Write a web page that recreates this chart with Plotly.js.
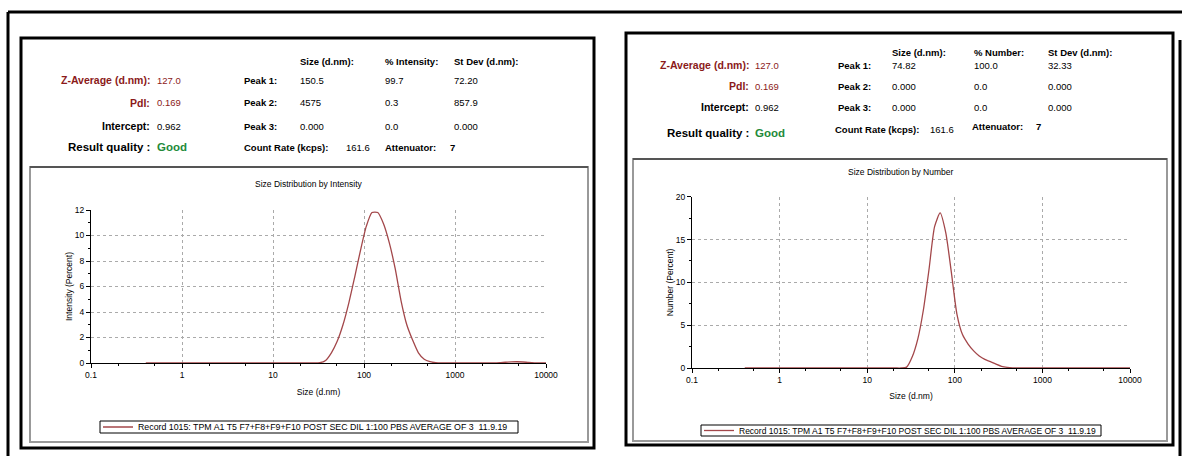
<!DOCTYPE html>
<html><head><meta charset="utf-8">
<script src="https://cdn.plot.ly/plotly-3.0.1.min.js"></script>
<style>html,body{margin:0;padding:0;background:#fff;}#chart{width:1182px;height:456px;}</style>
</head><body><div id="chart"></div>
<script>
// ---------------- DATA ----------------
const sizes = [0.4, 0.4632, 0.5365, 0.6213, 0.7195, 0.8332, 0.9649, 1.117, 1.294, 1.499,
  1.736, 2.010, 2.328, 2.696, 3.122, 3.615, 4.187, 4.849, 5.615, 6.503,
  7.531, 8.721, 10.10, 11.70, 13.54, 15.69, 18.17, 21.04, 24.36, 28.21,
  32.67, 37.84, 43.82, 50.75, 58.77, 68.06, 78.82, 91.28, 105.7, 122.4,
  141.8, 164.2, 190.1, 220.2, 255.0, 295.3, 342.0, 396.1, 458.7, 531.2,
  615.1, 712.4, 825.0, 955.4, 1106, 1281, 1484, 1718, 1990, 2305,
  2669, 3091, 3580, 4145, 4801, 5560, 6439, 7456, 8635, 10000];
const intensityPct = [0,0,0,0,0,0,0,0,0,0,
  0,0,0,0,0,0,0,0,0,0,
  0,0,0,0,0,0,0,0,0,0,
  0.02,0.2,0.8,1.7,3.0,4.7,6.7,8.8,10.7,11.8,
  11.8,10.9,9.4,7.4,4.9,3.0,1.8,0.8,0.3,0.1,
  0.02,0,0,0,0,0,0,0,0,0,
  0,0.02,0.06,0.09,0.1,0.08,0.04,0.01,0,0];
const numberPct = [0,0,0,0,0,0,0,0,0,0,
  0,0,0,0,0,0,0,0,0,0,
  0,0,0,0,0,0,0,0,0,0.1,
  1.3,3.4,6.8,11.5,16.5,18.1,15.8,11.2,6.3,3.9,
  2.8,2.0,1.4,1.0,0.75,0.45,0.2,0.08,0.02,0,
  0,0,0,0,0,0,0,0,0,0,
  0,0,0,0,0,0,0,0,0,0];
const xTickVals = [0.1, 1, 10, 100, 1000, 10000];
const xTickText = ['0.1', '1', '10', '100', '1000', '10000'];
const recordName = 'Record 1015: TPM A1 T5 F7+F8+F9+F10 POST SEC DIL 1:100 PBS AVERAGE OF 3  11.9.19';

const summaryLabels = ['Z-Average (d.nm):', 'PdI:', 'Intercept:'];
const summaryValues = ['127.0', '0.169', '0.962'];
const peakLabels = ['Peak 1:', 'Peak 2:', 'Peak 3:'];
const headersIntensity = ['Size (d.nm):', '% Intensity:', 'St Dev (d.nm):'];
const headersNumber = ['Size (d.nm):', '% Number:', 'St Dev (d.nm):'];
const peakSizeI = ['150.5', '4575', '0.000'];
const peakPctI = ['99.7', '0.3', '0.0'];
const peakSdI = ['72.20', '857.9', '0.000'];
const peakSizeN = ['74.82', '0.000', '0.000'];
const peakPctN = ['100.0', '0.0', '0.0'];
const peakSdN = ['32.33', '0.000', '0.000'];
const countRate = '161.6';
const attenuator = '7';
const quality = 'Good';

// ---------------- LAYOUT HELPERS ----------------
const W = 1182, H = 456;
const px = x => x / W;
const py = y => 1 - y / H;
const FAM = 'Liberation Sans, Arial, sans-serif';
const RED = '#8b1a1a', GREEN = '#238a3a', LINE = '#a3474a';

function ann(text, x, y, anchor, opts) {
  opts = opts || {};
  return {xref: 'paper', yref: 'paper', x: px(x), y: py(y), xanchor: anchor, yanchor: 'middle',
    text: text, showarrow: false, borderpad: 0,
    font: {family: FAM, size: opts.size || 9, color: opts.color || '#000', weight: opts.bold ? 'bold' : 'normal'}};
}

function statsBlock(P, headers, pSize, pPct, pSd) {
  const a = [];
  headers.forEach((h, i) => a.push(ann(h, P.cols[i], P.headY, 'left', {bold: true, size: 9.5})));
  summaryLabels.forEach((l, i) => {
    const c = i < 2 ? RED : '#000';
    a.push(ann(l, P.labelR, P.rows[i], 'right', {bold: true, size: 10.5, color: c}));
    a.push(ann(summaryValues[i], P.valueL, P.rows[i], 'left', {size: 9.5, color: c}));
    a.push(ann(peakLabels[i], P.peakL, P.rows[i], 'left', {bold: true, size: 9.5}));
    a.push(ann(pSize[i], P.cols[0], P.rows[i], 'left', {size: 9.5}));
    a.push(ann(pPct[i], P.cols[1], P.rows[i], 'left', {size: 9.5}));
    a.push(ann(pSd[i], P.cols[2], P.rows[i], 'left', {size: 9.5}));
  });
  a.push(ann('Result quality :', P.labelR, P.resY, 'right', {bold: true, size: 11.5}));
  a.push(ann(quality, P.valueL, P.resY, 'left', {bold: true, size: 11.5, color: GREEN}));
  a.push(ann('Count Rate (kcps):', P.countL, P.countY, 'left', {bold: true, size: 9.5}));
  a.push(ann(countRate, P.countV, P.countY, 'left', {size: 9.5}));
  a.push(ann('Attenuator:', P.attL, P.attY, 'left', {bold: true, size: 9.5}));
  a.push(ann(attenuator, P.attV, P.attY, 'left', {bold: true, size: 9.5}));
  return a;
}

const leftP = {labelR: 151, valueL: 156, peakL: 243, cols: [299, 384, 453], headY: 61,
  rows: [80, 103, 126], resY: 147, countL: 243, countV: 345, countY: 147, attL: 384, attV: 449, attY: 147};
const rightP = {labelR: 750, valueL: 754, peakL: 837, cols: [891, 973, 1047], headY: 53,
  rows: [65, 86, 107], resY: 133, countL: 834, countV: 929, countY: 129, attL: 971, attV: 1035, attY: 126};

const annotations = []
  .concat(statsBlock(leftP, headersIntensity, peakSizeI, peakPctI, peakSdI))
  .concat(statsBlock(rightP, headersNumber, peakSizeN, peakPctN, peakSdN));
annotations.push(ann('Size Distribution by Intensity', 309, 184, 'center', {size: 8.5}));
annotations.push(ann('Size Distribution by Number', 901, 172, 'center', {size: 8.5}));

function rect(x0, y0, x1, y1, color, w) {
  return {type: 'rect', xref: 'paper', yref: 'paper', x0: px(x0), x1: px(x1), y0: py(y0), y1: py(y1),
    line: {color: color, width: w}, fillcolor: 'rgba(0,0,0,0)'};
}
function hline(x0, x1, y, color, w) {
  return {type: 'line', xref: 'paper', yref: 'paper', x0: px(x0), x1: px(x1), y0: py(y), y1: py(y), line: {color: color, width: w}};
}
function vline(x, y0, y1, color, w) {
  return {type: 'line', xref: 'paper', yref: 'paper', x0: px(x), x1: px(x), y0: py(y0), y1: py(y1), line: {color: color, width: w}};
}
const shapes = [
  hline(8, 1182, 12, '#000', 3),
  vline(8, 12, 470, '#000', 3),
  vline(1180, 40, 470, '#000', 3),
  rect(21, 38, 594, 448, '#000', 3),
  rect(30, 167, 588, 442, '#999', 2),
  hline(30, 588, 167, '#555', 2),
  rect(626, 33, 1173, 445, '#000', 3),
  rect(633, 159, 1167, 441, '#999', 2),
  hline(633, 1167, 159, '#555', 2),
  // compact frames around the two legends
  rect(100, 421, 518, 433, '#000', 1),
  rect(701, 425, 1101, 436, '#000', 1)
];

function xAxis(d0, d1, anchor, standoff) {
  return {type: 'log', domain: [px(d0), px(d1)], range: [-1, 4], anchor: anchor,
    tickvals: xTickVals, ticktext: xTickText, tickfont: {family: FAM, size: 8.5, color: '#000'},
    showline: true, linecolor: '#000', linewidth: 1, ticks: 'outside', ticklen: 4, tickcolor: '#000',
    showgrid: true, gridcolor: '#aaaaaa', griddash: 'dot', gridwidth: 1, zeroline: false,
    minor: {ticks: 'outside', ticklen: 2, tickcolor: '#000', showgrid: false},
    title: {text: 'Size (d.nm)', font: {family: FAM, size: 8.5, color: '#000'}, standoff: standoff}};
}
function yAxis(d0, d1, anchor, maxV, dt, mdt, title) {
  return {domain: [py(d0), py(d1)], range: [0, maxV], dtick: dt, anchor: anchor,
    tickfont: {family: FAM, size: 8.5, color: '#000'},
    showline: true, linecolor: '#000', linewidth: 1, ticks: 'outside', ticklen: 4, tickcolor: '#000',
    showgrid: true, gridcolor: '#aaaaaa', griddash: 'dot', gridwidth: 1, zeroline: false,
    minor: {dtick: mdt, ticks: 'outside', ticklen: 2, tickcolor: '#000', showgrid: false},
    title: {text: title, font: {family: FAM, size: 8.5, color: '#000'}, standoff: 0}};
}

const traces = [
  {x: sizes, y: intensityPct, type: 'scatter', mode: 'lines', name: recordName, xaxis: 'x', yaxis: 'y',
   line: {color: LINE, width: 1.3, shape: 'spline', smoothing: 0.6}, legend: 'legend', cliponaxis: true},
  {x: sizes, y: numberPct, type: 'scatter', mode: 'lines', name: recordName, xaxis: 'x2', yaxis: 'y2',
   line: {color: LINE, width: 1.3, shape: 'spline', smoothing: 0.6}, legend: 'legend2', cliponaxis: true}
];

const legendBase = {borderwidth: 0, bgcolor: 'rgba(0,0,0,0)', xanchor: 'left', yanchor: 'middle',
  itemwidth: 30, tracegroupgap: 0};

const layout = {
  width: W, height: H, margin: {l: 0, r: 0, t: 0, b: 0},
  paper_bgcolor: '#fff', plot_bgcolor: '#fff', showlegend: true,
  font: {family: FAM, size: 9, color: '#000'},
  xaxis: xAxis(91, 546, 'y', 9),
  yaxis: yAxis(363, 210, 'x', 12, 2, 1, 'Intensity (Percent)'),
  xaxis2: xAxis(692, 1130, 'y2', 8),
  yaxis2: yAxis(368, 196.7, 'x2', 20, 5, 2.5, 'Number (Percent)'),
  legend: Object.assign({}, legendBase, {x: px(98), y: py(427), font: {family: FAM, size: 8.8, color: '#000'}}),
  legend2: Object.assign({}, legendBase, {x: px(699), y: py(430.5), font: {family: FAM, size: 8.5, color: '#000'}}),
  annotations: annotations,
  shapes: shapes
};

Plotly.newPlot('chart', traces, layout, {displayModeBar: false, staticPlot: true});
</script>
</body></html>
